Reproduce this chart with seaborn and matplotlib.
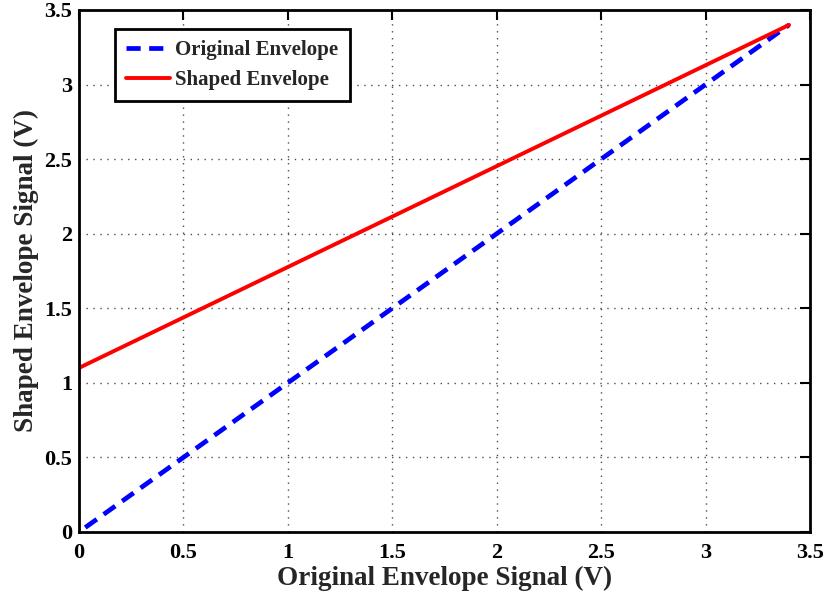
import numpy as np
import pandas as pd
import seaborn as sns
import matplotlib
matplotlib.use("Agg")
import matplotlib.pyplot as plt

# Envelope transfer: input envelope vs. output envelope (volts)
original_in = [0.03, 3.4]
original_out = [0.03, 3.4]
shaped_in = [0.0, 3.4]
shaped_out = [1.1, 3.4]

x_ticks = [0, 0.5, 1, 1.5, 2, 2.5, 3, 3.5]
y_ticks = [0, 0.5, 1, 1.5, 2, 2.5, 3, 3.5]
tick_labels = ["0", "0.5", "1", "1.5", "2", "2.5", "3", "3.5"]

sns.set_theme(style="white")
plt.rcParams["font.family"] = ["Liberation Serif", "DejaVu Serif"]

df = pd.concat([
    pd.DataFrame({"x": original_in, "y": original_out, "series": "Original Envelope"}),
    pd.DataFrame({"x": shaped_in, "y": shaped_out, "series": "Shaped Envelope"}),
])

fig = plt.figure(figsize=(8.27, 5.98), dpi=100)
ax = fig.add_axes([0.0955, 0.1104, 0.8839, 0.8729])

sns.lineplot(data=df[df.series == "Original Envelope"], x="x", y="y", ax=ax,
             color="#0000ff", linewidth=3.4, linestyle=(0, (3.0, 1.8)),
             label="Original Envelope")
sns.lineplot(data=df[df.series == "Shaped Envelope"], x="x", y="y", ax=ax,
             color="#ff0000", linewidth=2.8, label="Shaped Envelope")

ax.set_xlim(0, 3.5)
ax.set_ylim(0, 3.5)
ax.set_xticks(x_ticks)
ax.set_yticks(y_ticks)
ax.set_xticklabels(tick_labels, fontweight="bold")
ax.set_yticklabels(tick_labels, fontweight="bold")
ax.tick_params(direction="in", length=7, width=1.5, top=True, right=True,
               labelsize=16, colors="black")
ax.tick_params(axis="x", pad=8)
ax.tick_params(axis="y", pad=5)
ax.grid(True, linestyle=(0, (1, 4)), color="black", linewidth=1.0, alpha=0.7)
for s in ax.spines.values():
    s.set_visible(True)
    s.set_color("black")
    s.set_linewidth(2.0)

ax.set_xlabel("Original Envelope Signal (V)", fontsize=19.5, fontweight="bold", labelpad=2)
ax.set_ylabel("Shaped Envelope Signal (V)", fontsize=19.5, fontweight="bold", labelpad=4)

leg = ax.legend(loc="upper left", bbox_to_anchor=(0.049, 0.9636), borderaxespad=0,
                fontsize=15, frameon=True, fancybox=False, edgecolor="black",
                framealpha=1, handlelength=2.1, handletextpad=0.25,
                borderpad=0.55, labelspacing=0.45)
leg.get_frame().set_linewidth(2.0)
for t in leg.get_texts():
    t.set_fontweight("bold")

fig.savefig("out.png", dpi=100)
